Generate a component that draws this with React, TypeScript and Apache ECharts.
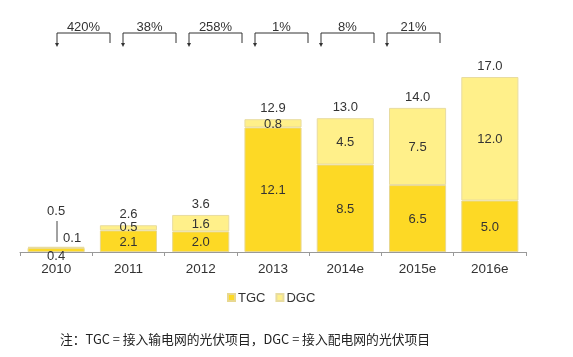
import React, { useEffect, useRef } from "react";
import * as echarts from "echarts";

const categories = ["2010", "2011", "2012", "2013", "2014e", "2015e", "2016e"];
const tgc = [0.4, 2.1, 2.0, 12.1, 8.5, 6.5, 5.0];
const dgc = [0.1, 0.5, 1.6, 0.8, 4.5, 7.5, 12.0];
const totals = [0.5, 2.6, 3.6, 12.9, 13.0, 14.0, 17.0];
const growth = ["420%", "38%", "258%", "1%", "8%", "21%"];
const footnote = "注：TGC = 接入输电网的光伏项目，DGC = 接入配电网的光伏项目";

const FONT = "Liberation Sans, Arial, sans-serif";

export default function App() {
  const ref = useRef<HTMLDivElement>(null);
  useEffect(() => {
    if (!ref.current) return;
    const chart = echarts.init(ref.current, null, { renderer: "svg" });
    const bracketStarts = [57, 123, 189, 255, 321, 387];
    const graphics: any[] = [];
    growth.forEach((g, i) => {
      const x0 = bracketStarts[i];
      const x1 = x0 + 53;
      graphics.push({
        type: "polyline",
        shape: { points: [[x0, 44], [x0, 33], [x1, 33], [x1, 43]] },
        style: { stroke: "#333", lineWidth: 1, fill: null },
      });
      graphics.push({
        type: "polygon",
        shape: { points: [[x0 - 2, 43], [x0 + 2, 43], [x0, 47]] },
        style: { fill: "#333" },
      });
      graphics.push({
        type: "text",
        x: (x0 + x1) / 2,
        y: 26,
        style: {
          text: g,
          fill: "#333",
          font: `13px ${FONT}`,
          textAlign: "center",
          textVerticalAlign: "middle",
        },
      });
    });
    graphics.push({
      type: "line",
      shape: { x1: 57, y1: 221, x2: 57, y2: 242 },
      style: { stroke: "#444", lineWidth: 1 },
    });
    graphics.push({
      type: "text",
      x: 60,
      y: 338,
      style: {
        text: footnote,
        fill: "#222",
        font: `12.8px "Noto Sans CJK SC", sans-serif`,
        textVerticalAlign: "middle",
      },
    });

    const labelBase = {
      show: true,
      color: "#333",
      fontFamily: FONT,
      fontSize: 13,
      formatter: (p: any) => p.value.toFixed(1),
    };

    chart.setOption({
      animation: false,
      grid: { left: 20, right: 47, top: 77, bottom: 105 },
      legend: {
        data: [
          { name: "TGC", icon: "rect" },
          { name: "DGC", icon: "rect" },
        ],
        top: 286,
        left: 222,
        itemWidth: 7,
        itemHeight: 7,
        itemGap: 10,
        textStyle: { color: "#333", fontFamily: FONT, fontSize: 13, padding: [0, 0, 0, -2] },
      },
      xAxis: {
        type: "category",
        data: categories,
        axisLine: { lineStyle: { color: "#999" } },
        axisTick: { show: true, length: 4, lineStyle: { color: "#999" } },
        axisLabel: { color: "#333", fontFamily: FONT, fontSize: 13.5, margin: 9 },
      },
      yAxis: { type: "value", min: 0, max: 17, show: false, splitLine: { show: false } },
      series: [
        {
          name: "TGC",
          type: "bar",
          stack: "total",
          barCategoryGap: "21%",
          itemStyle: { color: "#FDD925", borderColor: "#E8D890", borderWidth: 1 },
          label: { ...labelBase, position: "inside" },
          data: tgc.map((v, i) =>
            i === 0 ? { value: v, label: { position: "bottom", distance: -3 } } : v
          ),
        },
        {
          name: "DGC",
          type: "bar",
          stack: "total",
          barCategoryGap: "21%",
          itemStyle: { color: "#FFF08A", borderColor: "#E8DCA0", borderWidth: 1 },
          label: { ...labelBase, position: "inside" },
          data: dgc.map((v, i) =>
            i === 0
              ? { value: v, label: { position: "top", offset: [16, 2] } }
              : i === 1
              ? { value: v, label: { offset: [0, -1] } }
              : v
          ),
        },
        {
          name: "Total",
          type: "bar",
          barGap: "-100%",
          barCategoryGap: "21%",
          itemStyle: { color: "transparent" },
          silent: true,
          z: 5,
          label: { ...labelBase, position: "top", distance: 5 },
          data: totals.map((v, i) =>
            i === 0 ? { value: v, label: { offset: [0, -25] } } : v
          ),
        },
      ],
      graphic: graphics,
    });
    return () => chart.dispose();
  }, []);
  return (
    <div
      ref={ref}
      style={{ position: "fixed", left: 0, top: 0, width: 573, height: 357 }}
    />
  );
}
